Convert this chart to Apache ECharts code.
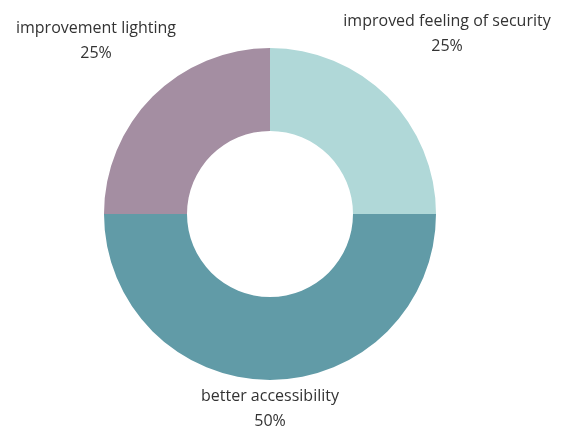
<!DOCTYPE html>
<html>
<head>
<meta charset="utf-8">
<style>
  html, body { margin: 0; padding: 0; background: #ffffff; }
  #chart { width: 562px; height: 427px; }
</style>
<script src="https://cdn.jsdelivr.net/npm/echarts@6/dist/echarts.min.js"></script>
</head>
<body>
<div id="chart"></div>
<script>
// Survey answers and their shares (percent)
const categories = ['improved feeling of security', 'better accessibility', 'improvement lighting'];
const shares = [25, 50, 25];
const sliceColors = ['#b0d8d8', '#619ba7', '#a48ea2'];

// Where each two-line label is centred (px)
const labelSpots = [[447, 34], [270, 409], [96, 41]];

const chart = echarts.init(document.getElementById('chart'), null, { renderer: 'canvas' });

chart.setOption({
  animation: false,
  series: [{
    type: 'pie',
    center: [270, 214],
    radius: [83, 166],
    startAngle: 90,
    clockwise: true,
    data: categories.map((name, i) => ({
      name: name,
      value: shares[i],
      itemStyle: { color: sliceColors[i] }
    })),
    label: {
      show: true,
      position: 'outside',
      alignTo: 'none',
      formatter: '{b}\n{d}%',
      fontFamily: 'Open Sans',
      fontSize: 16,
      lineHeight: 25,
      color: '#333333',
      align: 'center',
      overflow: 'none'
    },
    labelLine: { show: false },
    labelLayout: function (params) {
      const spot = labelSpots[params.dataIndex];
      return { x: spot[0], y: spot[1], align: 'center', verticalAlign: 'middle', width: 400 };
    },
    emphasis: { disabled: true }
  }]
});
</script>
</body>
</html>
